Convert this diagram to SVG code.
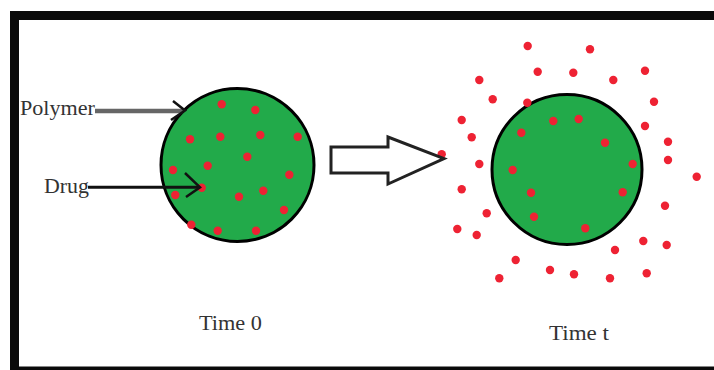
<svg xmlns="http://www.w3.org/2000/svg" width="714" height="370" viewBox="0 0 714 370">
<style>
.lbl{font-family:"Liberation Serif","Times New Roman",serif;font-size:20px;fill:#333}
.sphere{fill:#22aa4a;stroke:#000;stroke-width:3}
.dot{fill:#ee2233}
.thin{fill:none;stroke:#111;stroke-width:2.5}
</style>
<defs>
<circle id="d" r="4.2" class="dot"/>
</defs>
<rect x="0" y="0" width="714" height="370" fill="#fff"/>
<rect id="frame" x="14.5" y="15.5" width="720" height="355.5" fill="#fff" stroke="#0a0a0a" stroke-width="9"/>

<g id="sphere-time0">
<circle cx="237.5" cy="165" r="76.5" class="sphere"/>
<use href="#d" x="221.7" y="104.3"/><use href="#d" x="255.3" y="110"/>
<use href="#d" x="190" y="139.3"/><use href="#d" x="220.3" y="136.7"/>
<use href="#d" x="260.3" y="135"/><use href="#d" x="297.7" y="136.7"/>
<use href="#d" x="247.3" y="156.7"/><use href="#d" x="207.7" y="165.7"/>
<use href="#d" x="173" y="170"/><use href="#d" x="289.3" y="174.7"/>
<use href="#d" x="201.7" y="187.7"/><use href="#d" x="175.3" y="195"/>
<use href="#d" x="263.3" y="190.7"/><use href="#d" x="239" y="196.7"/>
<use href="#d" x="284" y="210"/><use href="#d" x="191.3" y="224.7"/>
<use href="#d" x="217.7" y="230.7"/><use href="#d" x="256" y="230.7"/>
</g>

<g id="sphere-timet">
<circle cx="567" cy="169.5" r="75" class="sphere"/>
<use href="#d" x="527.7" y="46"/><use href="#d" x="590" y="49.3"/>
<use href="#d" x="479.3" y="80"/><use href="#d" x="537.7" y="71.7"/>
<use href="#d" x="573.3" y="72.7"/><use href="#d" x="613.3" y="80"/>
<use href="#d" x="645" y="70.7"/><use href="#d" x="492.7" y="99.3"/>
<use href="#d" x="527.3" y="102.7"/><use href="#d" x="654" y="101.7"/>
<use href="#d" x="461.7" y="120"/><use href="#d" x="553.3" y="121"/>
<use href="#d" x="578.7" y="119"/><use href="#d" x="645" y="126"/>
<use href="#d" x="471.7" y="137.3"/><use href="#d" x="521.3" y="132.7"/>
<use href="#d" x="605" y="142.7"/><use href="#d" x="668" y="141.7"/>
<use href="#d" x="441.7" y="154.3"/><use href="#d" x="479.3" y="164"/>
<use href="#d" x="668" y="160"/><use href="#d" x="632.7" y="164"/>
<use href="#d" x="512.7" y="170"/><use href="#d" x="696.7" y="176.7"/>
<use href="#d" x="461.7" y="189.3"/><use href="#d" x="531" y="192.7"/>
<use href="#d" x="622.7" y="192.3"/><use href="#d" x="665" y="205.7"/>
<use href="#d" x="486.7" y="213.3"/><use href="#d" x="534" y="216.7"/>
<use href="#d" x="457.3" y="229"/><use href="#d" x="476.7" y="235"/>
<use href="#d" x="585.3" y="228.3"/><use href="#d" x="643.3" y="241"/>
<use href="#d" x="666.7" y="245"/><use href="#d" x="615" y="250"/>
<use href="#d" x="515.7" y="260"/><use href="#d" x="550" y="270"/>
<use href="#d" x="574" y="274.3"/><use href="#d" x="610" y="278.3"/>
<use href="#d" x="646.7" y="273.3"/><use href="#d" x="499.3" y="278.3"/>
</g>

<g id="labels">
<text id="lbl-polymer" class="lbl" x="20" y="115" textLength="75" lengthAdjust="spacingAndGlyphs">Polymer</text>
<text id="lbl-drug" class="lbl" x="44" y="193" textLength="45" lengthAdjust="spacingAndGlyphs">Drug</text>
<text id="lbl-time0" class="lbl" x="199" y="330" textLength="63" lengthAdjust="spacingAndGlyphs">Time 0</text>
<text id="lbl-timet" class="lbl" x="549" y="340" textLength="60" lengthAdjust="spacingAndGlyphs">Time t</text>
</g>

<g id="connectors">
<line x1="95" y1="111" x2="183" y2="111" stroke="#666" stroke-width="4.5"/>
<polyline class="thin" points="173,101 185,110.5 171,120"/>
<line x1="88" y1="187.3" x2="199" y2="187.3" stroke="#111" stroke-width="3"/>
<polyline class="thin" points="185,173 200,187.3 186,197"/>
<polygon id="big-arrow" points="331,147 388,147 388,137 444,158.5 388,184 388,173 331,173" fill="#fff" stroke="#222" stroke-width="3" stroke-linejoin="miter"/>
</g>
</svg>
